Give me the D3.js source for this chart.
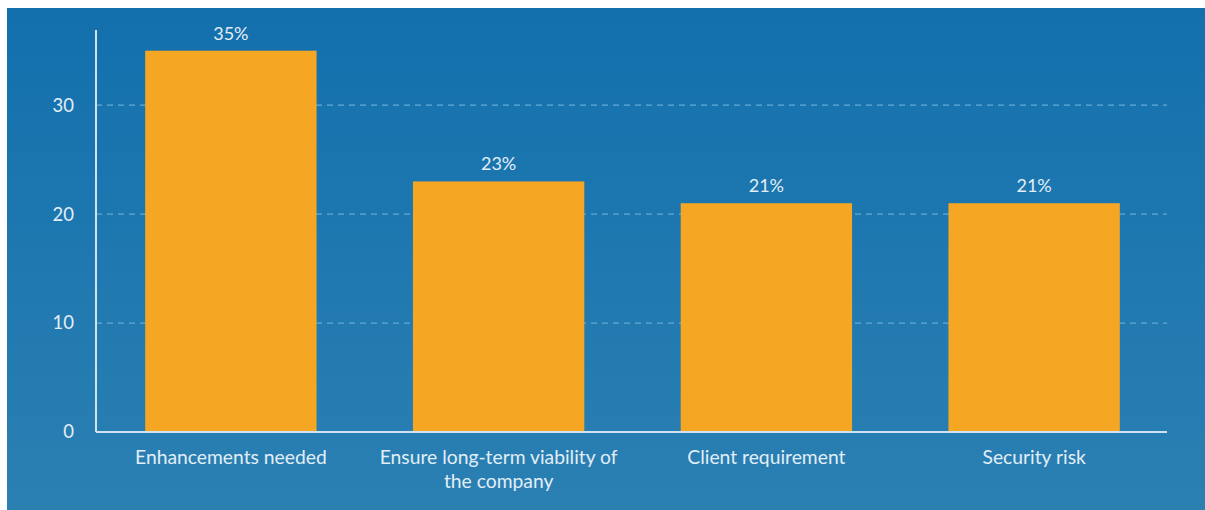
<!DOCTYPE html>
<html>
<head>
<meta charset="utf-8">
<script src="https://cdn.jsdelivr.net/npm/d3@7"></script>
<style>
  html, body { margin: 0; padding: 0; background: #ffffff; }
  svg { display: block; font-family: Lato, "Open Sans", sans-serif; }
</style>
</head>
<body>
<svg id="chart" width="1205" height="510"></svg>
<script>
// Reasons cited, share of respondents (%)
const categories = [
  "Enhancements needed",
  "Ensure long-term viability of the company",
  "Client requirement",
  "Security risk"
];
const values = [35, 23, 21, 21];
const yTicks = [0, 10, 20, 30];

const svg = d3.select("#chart");
const W = 1205, H = 510;
const panel = { x: 7, y: 8 };
const margin = { left: 96, right: 1167, top: 30, bottom: 432 };

// Background panel with a soft vertical gradient
const defs = svg.append("defs");
const grad = defs.append("linearGradient")
  .attr("id", "bg").attr("x1", 0).attr("y1", 0).attr("x2", 0).attr("y2", 1);
grad.append("stop").attr("offset", "0%").attr("stop-color", "#1370ad");
grad.append("stop").attr("offset", "100%").attr("stop-color", "#2b80b2");
svg.append("rect")
  .attr("x", panel.x).attr("y", panel.y)
  .attr("width", W - panel.x).attr("height", H - panel.y)
  .attr("fill", "url(#bg)");

const x = d3.scaleBand()
  .domain(categories)
  .range([margin.left + 1, margin.right + 1])
  .paddingInner(0.36)
  .paddingOuter(0.18);

const y = d3.scaleLinear()
  .domain([0, 36.9])
  .range([margin.bottom, margin.top]);

// Dashed gridlines
svg.append("g")
  .selectAll("line")
  .data(yTicks.filter(d => d > 0))
  .join("line")
  .attr("x1", margin.left).attr("x2", margin.right)
  .attr("y1", d => y(d)).attr("y2", d => y(d))
  .attr("stroke", "#64a9d6")
  .attr("stroke-width", 1.3)
  .attr("stroke-dasharray", "6,5");

// Bars
svg.append("g")
  .selectAll("rect")
  .data(values)
  .join("rect")
  .attr("x", (d, i) => x(categories[i]))
  .attr("y", d => y(d))
  .attr("width", x.bandwidth())
  .attr("height", d => y(0) - y(d))
  .attr("fill", "#f5a623");

// Value labels
svg.append("g")
  .selectAll("text")
  .data(values)
  .join("text")
  .attr("x", (d, i) => x(categories[i]) + x.bandwidth() / 2)
  .attr("y", d => y(d) - 11)
  .attr("text-anchor", "middle")
  .attr("fill", "#e2eef7")
  .attr("font-size", 18)
  .text(d => d + "%");

// Y axis
const yAxis = svg.append("g")
  .attr("transform", `translate(${margin.left},0)`)
  .call(d3.axisLeft(y).tickValues(yTicks).tickSize(0).tickPadding(22));
yAxis.select(".domain")
  .attr("d", `M0,${margin.top}V${margin.bottom}`)
  .attr("stroke", "#cfe4f3").attr("stroke-width", 2);
yAxis.selectAll("text")
  .attr("fill", "#e2eef7")
  .attr("font-size", 18.5)
  .attr("font-family", "Lato, sans-serif");

// X axis
const xAxis = svg.append("g")
  .attr("transform", `translate(0,${margin.bottom})`)
  .call(d3.axisBottom(x).tickSize(0).tickPadding(0));
xAxis.select(".domain")
  .attr("d", `M${margin.left},0H${margin.right}`)
  .attr("stroke", "#cfe4f3").attr("stroke-width", 2);
xAxis.selectAll("text").remove();

// Category labels, wrapped to fit the band
const maxWidth = 255;
xAxis.selectAll(".tick").each(function(d) {
  const t = d3.select(this).append("text")
    .attr("fill", "#e2eef7")
    .attr("font-size", 19.3)
    .attr("font-family", "Lato, sans-serif")
    .attr("text-anchor", "middle")
    .attr("y", 0);
  const words = d.split(" ");
  let line = [], lineNo = 0;
  let tspan = t.append("tspan").attr("x", 0).attr("y", 32);
  for (const w of words) {
    line.push(w);
    tspan.text(line.join(" "));
    if (tspan.node().getComputedTextLength() > maxWidth && line.length > 1) {
      line.pop();
      tspan.text(line.join(" "));
      line = [w];
      lineNo++;
      tspan = t.append("tspan").attr("x", 0).attr("y", 32 + lineNo * 24).text(w);
    }
  }
});
</script>
</body>
</html>
